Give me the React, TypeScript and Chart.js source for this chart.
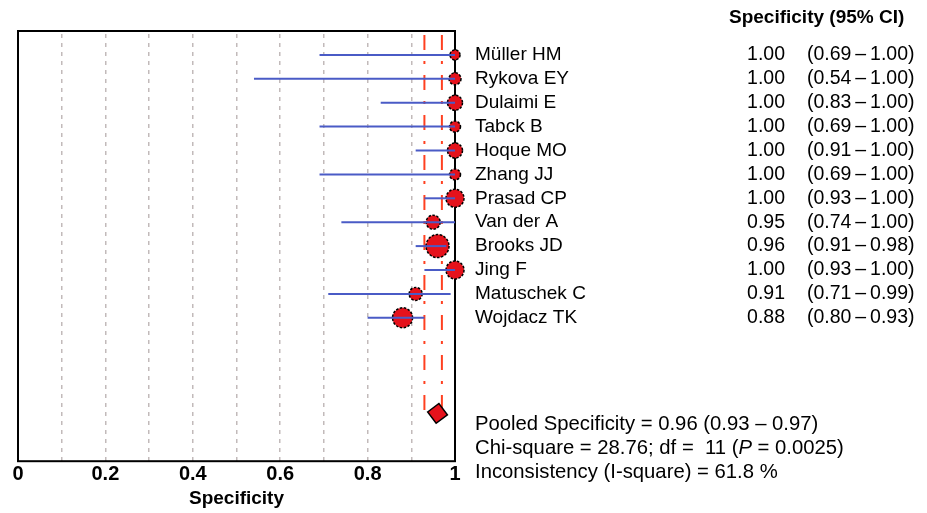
import React, { useEffect, useRef } from 'react';
import { Chart, registerables } from 'chart.js';

Chart.register(...registerables);

// ---------- data ----------
const studies = ['Müller HM', 'Rykova EY', 'Dulaimi E', 'Tabck B', 'Hoque MO', 'Zhang JJ', 'Prasad CP', 'Van der A', 'Brooks JD', 'Jing F', 'Matuschek C', 'Wojdacz TK'];
const specificity = [1.0, 1.0, 1.0, 1.0, 1.0, 1.0, 1.0, 0.95, 0.96, 1.0, 0.91, 0.88];
const ciLower = [0.69, 0.54, 0.83, 0.69, 0.91, 0.69, 0.93, 0.74, 0.91, 0.93, 0.71, 0.8];
const ciUpper = [1.0, 1.0, 1.0, 1.0, 1.0, 1.0, 1.0, 1.0, 0.98, 1.0, 0.99, 0.93];
const studyWeights = [5, 6, 7.5, 5.5, 7.5, 5.5, 9, 7, 11.5, 9, 6.5, 10];
const pooledValue = 0.96;
const pooledLower = 0.93;
const pooledUpper = 0.97;
const xTickLabels = ['0', '0.2', '0.4', '0.6', '0.8', '1'];
const headerLabel = 'Specificity (95% CI)';
const axisTitle = 'Specificity';
const pooledLabel = 'Pooled Specificity';
const chiSquare = '28.76';
const degreesOfFreedom = '11';
const pValue = '0.0025';
const iSquare = '61.8';

const FAMILY = 'Arial, "Liberation Sans", sans-serif';
const RED = '#e5121c';
const BLUE = '#4a5bc6';
const DASH_RED = '#ff4020';

const pooledRow = studies.length + 3;

export default function App() {
  const ref = useRef<HTMLCanvasElement | null>(null);

  useEffect(() => {
    const canvas = ref.current;
    if (!canvas) return;

    const ciDatasets = studies.map((s, i) => ({
      label: 'ci-' + s,
      data: [
        { x: ciLower[i], y: i },
        { x: ciUpper[i], y: i },
      ],
      showLine: true,
      borderColor: BLUE,
      borderWidth: 2,
      pointRadius: 0,
      fill: false,
      clip: false as any,
      order: 0,
    }));

    const pointsDataset = {
      label: 'points',
      data: studies.map((s, i) => ({ x: specificity[i], y: i })),
      showLine: false,
      pointRadius: studyWeights,
      pointHoverRadius: studyWeights,
      pointBackgroundColor: RED,
      pointBorderColor: '#000',
      pointBorderWidth: 1.5,
      clip: false as any,
      order: 1,
    };

    const diamondDataset = {
      label: 'pooled',
      data: [{ x: pooledValue, y: pooledRow }],
      showLine: false,
      pointStyle: 'rectRot',
      pointRadius: 10,
      pointHoverRadius: 10,
      pointRotation: 8,
      pointBackgroundColor: RED,
      pointBorderColor: '#000',
      pointBorderWidth: 1.5,
      clip: false as any,
      order: 2,
    };

    const refLines = [pooledLower, pooledUpper].map((v) => ({
      label: 'ref-' + v,
      data: [
        { x: v, y: -1 },
        { x: v, y: pooledRow },
      ],
      showLine: true,
      borderColor: DASH_RED,
      borderWidth: 2,
      borderDash: [15, 11, 3, 11],
      borderDashOffset: 36,
      pointRadius: 0,
      fill: false,
      order: 3,
    }));

    const datasets: any[] = [...ciDatasets, pointsDataset, diamondDataset, ...refLines];
    const pointsIndex = datasets.indexOf(pointsDataset);

    const boxPlugin = {
      id: 'box',
      beforeDatasetsDraw(chart: any) {
        const { ctx, chartArea } = chart;
        ctx.save();
        ctx.strokeStyle = '#000';
        ctx.lineWidth = 2;
        ctx.setLineDash([]);
        ctx.strokeRect(chartArea.left, chartArea.top, chartArea.right - chartArea.left, chartArea.bottom - chartArea.top);
        ctx.restore();
      },
      beforeDatasetDraw(chart: any, args: any) {
        if (args.index === pointsIndex) {
          chart.ctx.save();
          chart.ctx.setLineDash([2.5, 1.5]);
        }
      },
      afterDatasetDraw(chart: any, args: any) {
        if (args.index === pointsIndex) {
          chart.ctx.restore();
        }
      },
    };

    const textPlugin = {
      id: 'forestText',
      afterDraw(chart: any) {
        const { ctx, chartArea } = chart;
        const y = chart.scales.y;
        ctx.save();
        ctx.fillStyle = '#000';
        ctx.textBaseline = 'middle';
        ctx.setLineDash([]);

        ctx.font = `bold 19px ${FAMILY}`;
        ctx.textAlign = 'left';
        ctx.fillText(headerLabel, 729, 18);

        const nameX = chartArea.right + 20;
        studies.forEach((s, i) => {
          const py = y.getPixelForValue(i);
          ctx.font = `19px ${FAMILY}`;
          ctx.textAlign = 'left';
          ctx.fillText(s, nameX, py);
          ctx.font = `19.5px ${FAMILY}`;
          ctx.textAlign = 'right';
          ctx.fillText(specificity[i].toFixed(2), 785, py);
          ctx.textAlign = 'left';
          ctx.fillText(`(${ciLower[i].toFixed(2)}\u2009\u2013\u2009${ciUpper[i].toFixed(2)})`, 807, py);
        });

        const base = y.getPixelForValue(pooledRow) + 11;
        const f = 20.3;
        ctx.font = `${f}px ${FAMILY}`;
        ctx.textAlign = 'left';
        ctx.fillText(`${pooledLabel} = ${pooledValue.toFixed(2)} (${pooledLower.toFixed(2)} – ${pooledUpper.toFixed(2)})`, nameX, base);

        let x = nameX;
        const part1 = `Chi-square = ${chiSquare}; df =  ${degreesOfFreedom} (`;
        ctx.fillText(part1, x, base + 24);
        x += ctx.measureText(part1).width;
        ctx.font = `italic ${f}px ${FAMILY}`;
        ctx.fillText('P', x, base + 24);
        x += ctx.measureText('P').width;
        ctx.font = `${f}px ${FAMILY}`;
        ctx.fillText(` = ${pValue})`, x, base + 24);

        ctx.fillText(`Inconsistency (I-square) = ${iSquare} %`, nameX, base + 48);
        ctx.restore();
      },
    };

    const chart = new Chart(canvas, {
      type: 'scatter',
      data: { datasets },
      options: {
        animation: false,
        responsive: false,
        maintainAspectRatio: false,
        devicePixelRatio: 1,
        events: [],
        layout: { padding: { left: 18, top: 31, right: 472, bottom: 3 } },
        plugins: {
          legend: { display: false },
          tooltip: { enabled: false },
        },
        scales: {
          x: {
            type: 'linear',
            min: 0,
            max: 1,
            ticks: {
              stepSize: 0.1,
              autoSkip: false,
              maxRotation: 0,
              padding: 1,
              color: '#000',
              font: { family: FAMILY, size: 20, weight: 'bold' },
              callback: (_v: any, i: number) => (i % 2 === 0 ? xTickLabels[i / 2] : ''),
            },
            grid: {
              drawTicks: false,
              lineWidth: 1.5,
              color: (ctx: any) => {
                const v = ctx.tick ? ctx.tick.value : 0;
                return v > 0.001 && v < 0.999 ? '#c2baba' : 'rgba(0,0,0,0)';
              },
            },
            border: { display: false, dash: [4, 5], dashOffset: 6 },
            title: {
              display: true,
              text: axisTitle,
              color: '#000',
              font: { family: FAMILY, size: 19, weight: 'bold' },
              padding: { top: 0, bottom: 0 },
            },
          },
          y: {
            type: 'linear',
            display: false,
            min: -1,
            max: studies.length + 5,
            reverse: true,
          },
        },
      } as any,
      plugins: [boxPlugin, textPlugin],
    });

    return () => chart.destroy();
  }, []);

  return (
    <div style={{ position: 'absolute', left: 0, top: 0, width: 927, height: 513, background: '#fff' }}>
      <canvas ref={ref} width={927} height={513} style={{ display: 'block' }} />
    </div>
  );
}
